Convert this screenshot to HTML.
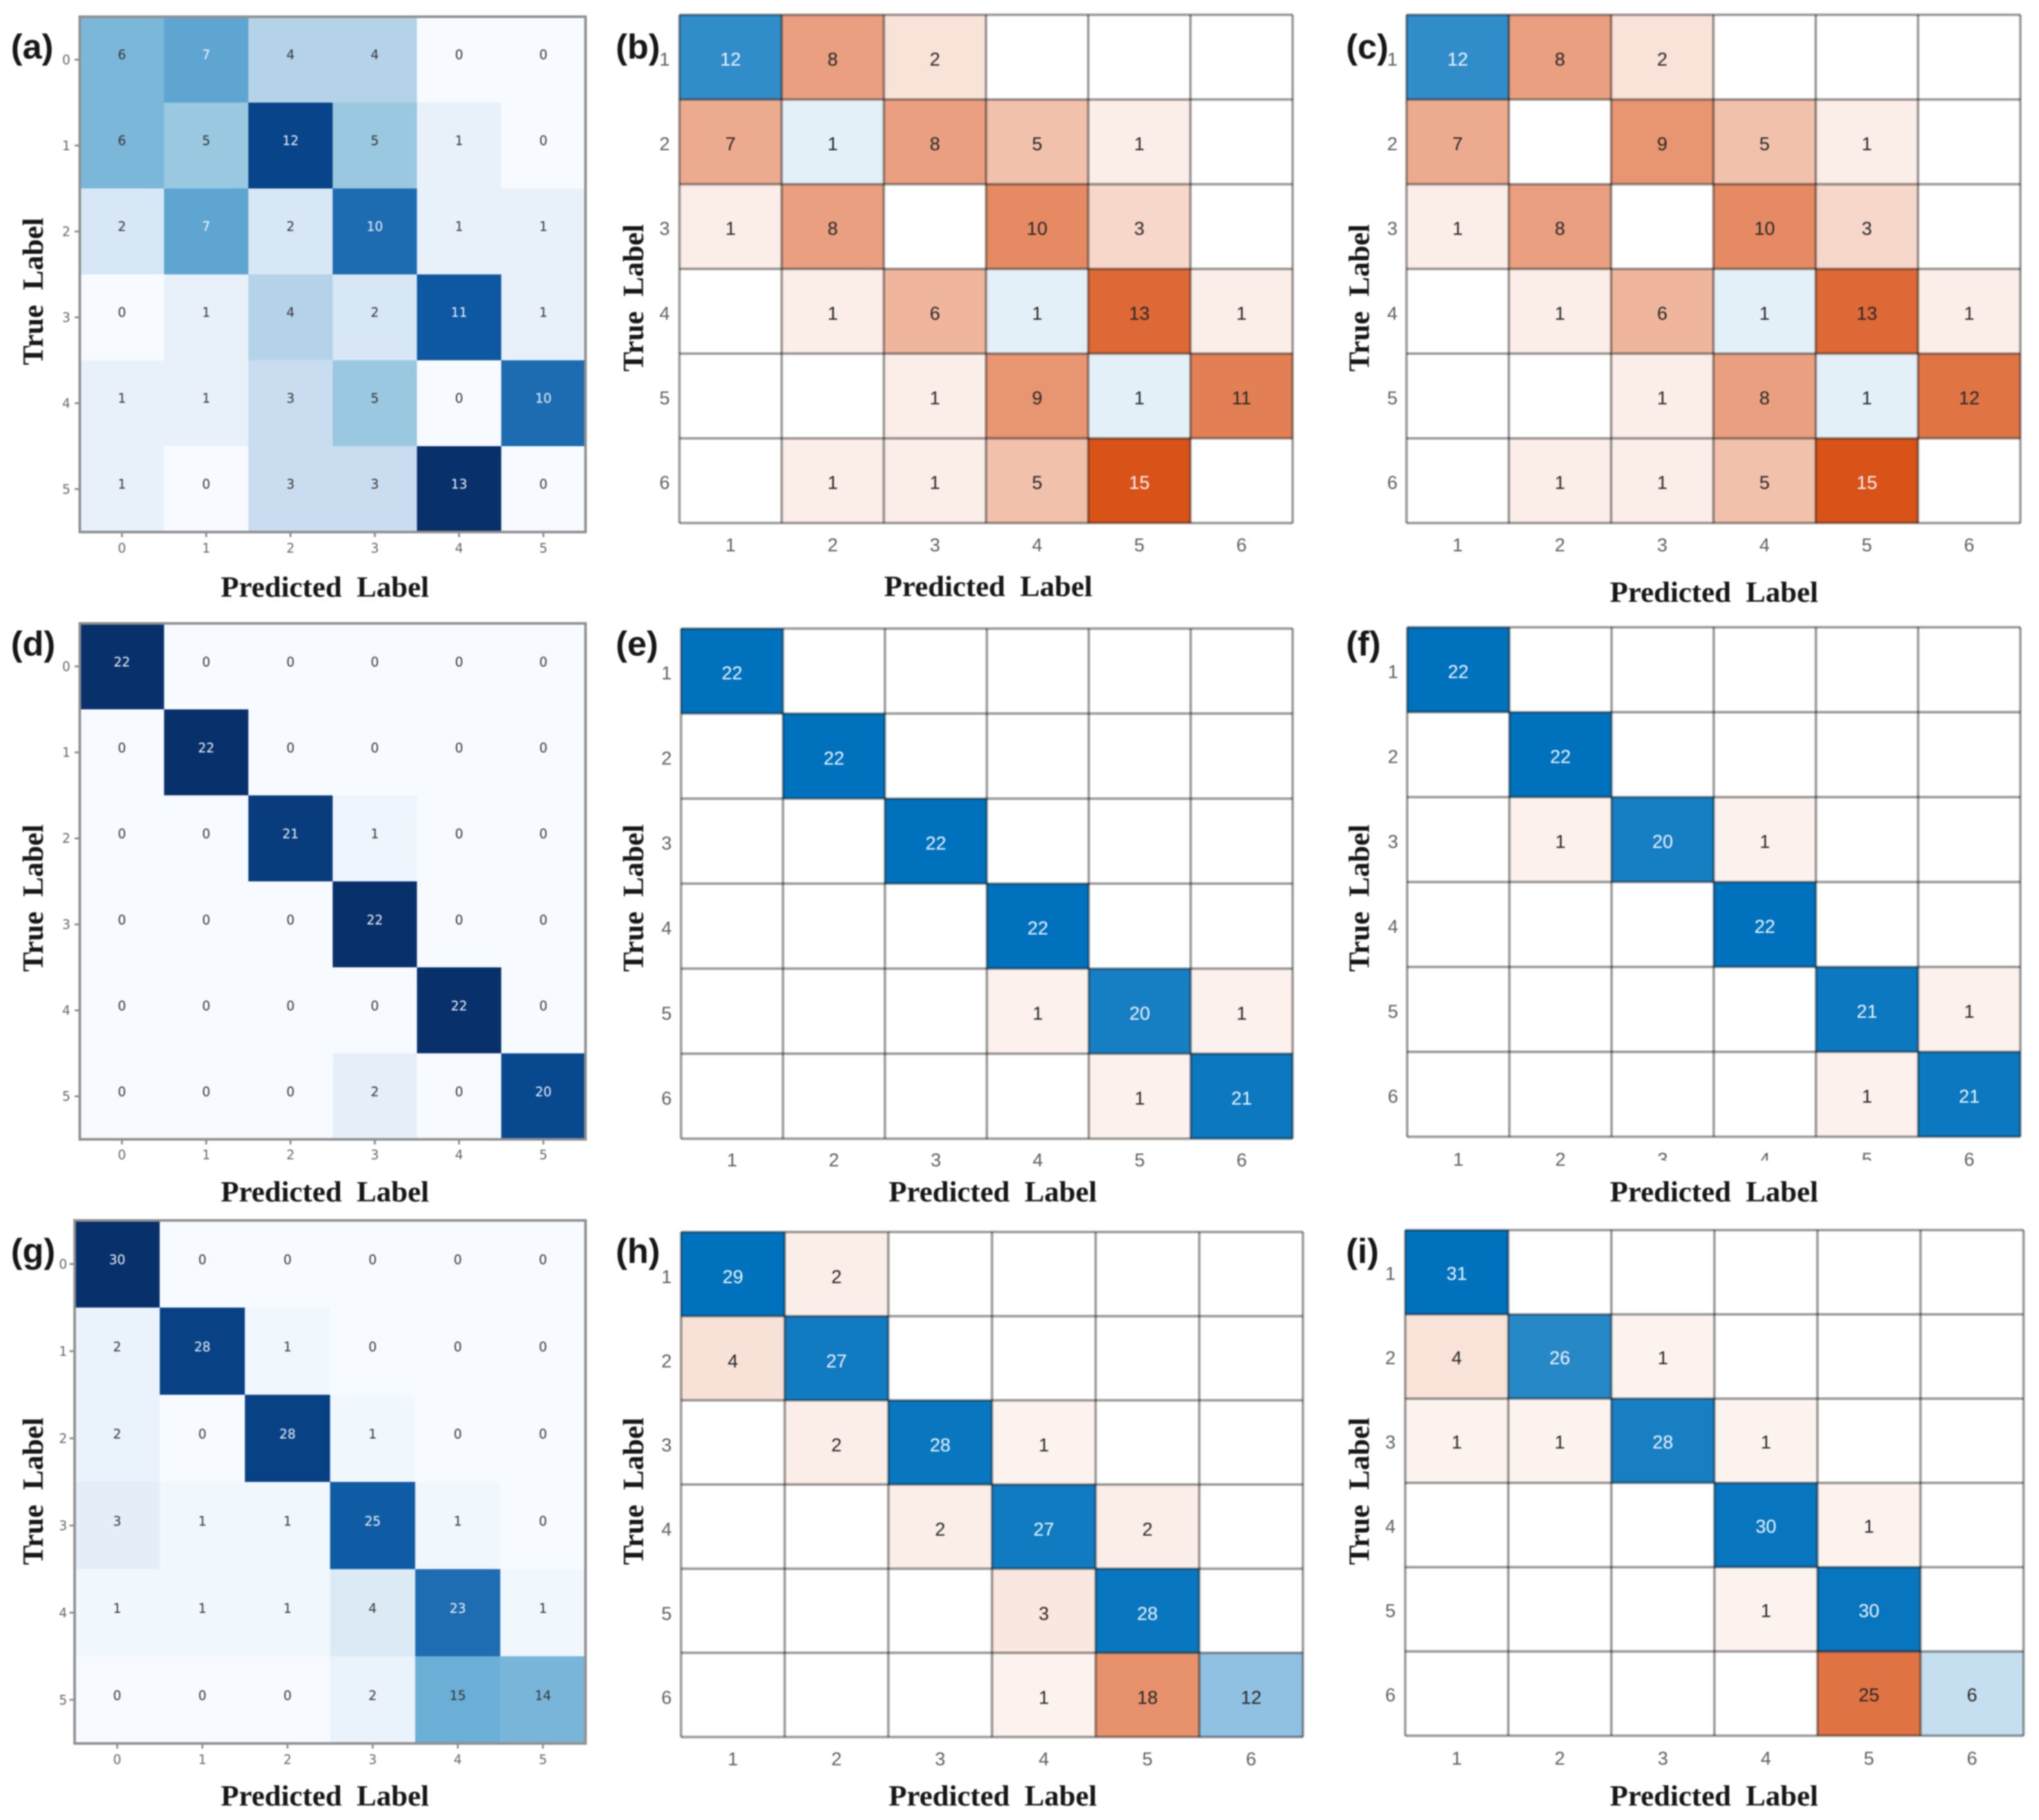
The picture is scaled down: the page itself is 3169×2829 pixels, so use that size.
<!DOCTYPE html>
<html>
<head>
<meta charset="utf-8">
<title>Confusion matrices</title>
<style>
html,body{margin:0;padding:0;background:#fff;width:3169px;height:2829px;overflow:hidden}
svg{display:block;filter:blur(1.1px)}
.title{font-family:"Liberation Serif",serif;font-weight:bold;font-size:46px;fill:#161616;white-space:pre;text-anchor:middle;dominant-baseline:central}
.tag{font-family:"Liberation Sans",sans-serif;font-weight:bold;font-size:54px;fill:#161616;dominant-baseline:central}
</style>
</head>
<body>
<svg id="figure" xmlns="http://www.w3.org/2000/svg" width="3169" height="2829" viewBox="0 0 3169 2829">
<rect x="0" y="0" width="3169" height="2829" fill="#fff"/>
<g id="charts"></g>
<rect x="2505" y="1804" width="440" height="30" fill="#fff"/>

<text class="title" x="505" y="912">Predicted  Label</text>
<text class="title" x="1536" y="911">Predicted  Label</text>
<text class="title" x="2664" y="920">Predicted  Label</text>
<text class="title" x="505" y="1852">Predicted  Label</text>
<text class="title" x="1543" y="1852">Predicted  Label</text>
<text class="title" x="2664" y="1852">Predicted  Label</text>
<text class="title" x="505" y="2791">Predicted  Label</text>
<text class="title" x="1543" y="2791">Predicted  Label</text>
<text class="title" x="2664" y="2791">Predicted  Label</text>

<text class="title" transform="translate(51 453) rotate(-90)">True  Label</text>
<text class="title" transform="translate(984 463) rotate(-90)">True  Label</text>
<text class="title" transform="translate(2112 463) rotate(-90)">True  Label</text>
<text class="title" transform="translate(51 1396) rotate(-90)">True  Label</text>
<text class="title" transform="translate(984 1396) rotate(-90)">True  Label</text>
<text class="title" transform="translate(2112 1396) rotate(-90)">True  Label</text>
<text class="title" transform="translate(51 2318) rotate(-90)">True  Label</text>
<text class="title" transform="translate(984 2318) rotate(-90)">True  Label</text>
<text class="title" transform="translate(2112 2318) rotate(-90)">True  Label</text>

<text class="tag" x="17" y="73">(a)</text>
<text class="tag" x="957" y="73">(b)</text>
<text class="tag" x="2092" y="73">(c)</text>
<text class="tag" x="17" y="1001">(d)</text>
<text class="tag" x="957" y="1001">(e)</text>
<text class="tag" x="2092" y="1001">(f)</text>
<text class="tag" x="17" y="1945">(g)</text>
<text class="tag" x="957" y="1945">(h)</text>
<text class="tag" x="2092" y="1945">(i)</text>
</svg>

<script>
// ---- data ----
const ticksFromZero = [0, 1, 2, 3, 4, 5];
const ticksFromOne = [1, 2, 3, 4, 5, 6];

const valuesA = [
  [6, 7, 4, 4, 0, 0],
  [6, 5, 12, 5, 1, 0],
  [2, 7, 2, 10, 1, 1],
  [0, 1, 4, 2, 11, 1],
  [1, 1, 3, 5, 0, 10],
  [1, 0, 3, 3, 13, 0]
];
const valuesB = [
  [12, 8, 2, 0, 0, 0],
  [7, 1, 8, 5, 1, 0],
  [1, 8, 0, 10, 3, 0],
  [0, 1, 6, 1, 13, 1],
  [0, 0, 1, 9, 1, 11],
  [0, 1, 1, 5, 15, 0]
];
const valuesC = [
  [12, 8, 2, 0, 0, 0],
  [7, 0, 9, 5, 1, 0],
  [1, 8, 0, 10, 3, 0],
  [0, 1, 6, 1, 13, 1],
  [0, 0, 1, 8, 1, 12],
  [0, 1, 1, 5, 15, 0]
];
const valuesD = [
  [22, 0, 0, 0, 0, 0],
  [0, 22, 0, 0, 0, 0],
  [0, 0, 21, 1, 0, 0],
  [0, 0, 0, 22, 0, 0],
  [0, 0, 0, 0, 22, 0],
  [0, 0, 0, 2, 0, 20]
];
const valuesE = [
  [22, 0, 0, 0, 0, 0],
  [0, 22, 0, 0, 0, 0],
  [0, 0, 22, 0, 0, 0],
  [0, 0, 0, 22, 0, 0],
  [0, 0, 0, 1, 20, 1],
  [0, 0, 0, 0, 1, 21]
];
const valuesF = [
  [22, 0, 0, 0, 0, 0],
  [0, 22, 0, 0, 0, 0],
  [0, 1, 20, 1, 0, 0],
  [0, 0, 0, 22, 0, 0],
  [0, 0, 0, 0, 21, 1],
  [0, 0, 0, 0, 1, 21]
];
const valuesG = [
  [30, 0, 0, 0, 0, 0],
  [2, 28, 1, 0, 0, 0],
  [2, 0, 28, 1, 0, 0],
  [3, 1, 1, 25, 1, 0],
  [1, 1, 1, 4, 23, 1],
  [0, 0, 0, 2, 15, 14]
];
const valuesH = [
  [29, 2, 0, 0, 0, 0],
  [4, 27, 0, 0, 0, 0],
  [0, 2, 28, 1, 0, 0],
  [0, 0, 2, 27, 2, 0],
  [0, 0, 0, 3, 28, 0],
  [0, 0, 0, 1, 18, 12]
];
const valuesI = [
  [31, 0, 0, 0, 0, 0],
  [4, 26, 1, 0, 0, 0],
  [1, 1, 28, 1, 0, 0],
  [0, 0, 0, 30, 1, 0],
  [0, 0, 0, 1, 30, 0],
  [0, 0, 0, 0, 25, 6]
];

// ---- layout of each panel (separate from the data) ----
const panels = [
  {id:'a', style:'heat',  values:valuesA, ticks:ticksFromZero, left:124,    right:910,  top:26,   bottom:827,  tickX:103,  tickY:852,  dy:-8},
  {id:'b', style:'chart', values:valuesB, ticks:ticksFromOne,  left:1056,   right:2009, top:23,   bottom:813,  tickX:1033, tickY:848,  dy:4},
  {id:'c', style:'chart', values:valuesC, ticks:ticksFromOne,  left:2186,   right:3140, top:23,   bottom:813,  tickX:2164, tickY:848,  dy:4},
  {id:'d', style:'heat',  values:valuesD, ticks:ticksFromZero, left:124,    right:910,  top:969,  bottom:1771, tickX:103,  tickY:1795, dy:-7},
  {id:'e', style:'chart', values:valuesE, ticks:ticksFromOne,  left:1058.5, right:2009, top:977,  bottom:1770, tickX:1036, tickY:1804, dy:4},
  {id:'f', style:'chart', values:valuesF, ticks:ticksFromOne,  left:2187,   right:3140, top:975,  bottom:1767, tickX:2165, tickY:1803, dy:4},
  {id:'g', style:'heat',  values:valuesG, ticks:ticksFromZero, left:116,    right:910,  top:1897, bottom:2710, tickX:98,   tickY:2735, dy:-7},
  {id:'h', style:'chart', values:valuesH, ticks:ticksFromOne,  left:1058.5, right:2025, top:1915, bottom:2700, tickX:1036, tickY:2735, dy:5},
  {id:'i', style:'chart', values:valuesI, ticks:ticksFromOne,  left:2184,   right:3145, top:1912, bottom:2698, tickX:2161, tickY:2734, dy:3}
];

const NS = 'http://www.w3.org/2000/svg';
const bluesRamp = [[247,251,255],[222,235,247],[198,219,239],[158,202,225],[107,174,214],[66,146,198],[33,113,181],[8,81,156],[8,48,107]];

function make(tag, parent, attrs) {
  const node = document.createElementNS(NS, tag);
  for (const k in attrs) node.setAttribute(k, attrs[k]);
  parent.appendChild(node);
  return node;
}
function rgb(c) { return 'rgb(' + c.map(Math.round).join(',') + ')'; }
function bluesColor(t) {
  const p = Math.max(0, Math.min(1, t)) * (bluesRamp.length - 1);
  const i = Math.min(Math.floor(p), bluesRamp.length - 2);
  const f = p - i;
  return bluesRamp[i].map((v, k) => v + (bluesRamp[i + 1][k] - v) * f);
}
function tintColor(base, t) {
  if (t <= 0) return [255, 255, 255];
  const a = 0.04 + 0.96 * t;
  return base.map(v => 255 + (v - 255) * a);
}
function luminance(c) { return 0.299 * c[0] + 0.587 * c[1] + 0.114 * c[2]; }

const root = document.getElementById('charts');

panels.forEach(function (p) {
  const n = p.values.length;
  const xScale = function (v) { return p.left + v * (p.right - p.left) / n; };
  const yScale = function (v) { return p.top + v * (p.bottom - p.top) / n; };
  const maxValue = Math.max.apply(null, p.values.map(r => Math.max.apply(null, r)));
  const heat = p.style === 'heat';

  const group = make('g', root, {});
  
  

  p.values.forEach(function (row, r) {
    row.forEach(function (value, c) {
      const color = heat ? bluesColor(value / maxValue)
                         : tintColor(r === c ? [0, 114, 189] : [217, 83, 25], value / maxValue);
      const cell = make('rect', group, {
        x: xScale(c), y: yScale(r),
        width: xScale(c + 1) - xScale(c), height: yScale(r + 1) - yScale(r),
        fill: rgb(color)
      });
      
      
    });
  });

  if (!heat) {
    for (let i = 0; i <= n; i++) {
      const v = make('line', group, {x1: xScale(i), x2: xScale(i), y1: yScale(0), y2: yScale(n), stroke: 'rgba(0,0,0,0.38)', 'stroke-width': 4});
      
      
      const h = make('line', group, {x1: xScale(0), x2: xScale(n), y1: yScale(i), y2: yScale(i), stroke: 'rgba(0,0,0,0.38)', 'stroke-width': 4});
      
      
    }
  } else {
    const frame = make('rect', group, {
      x: xScale(0), y: yScale(0), width: xScale(n) - xScale(0), height: yScale(n) - yScale(0),
      fill: 'none', stroke: '#8f8f8f', 'stroke-width': 4
    });
    
    
  }

  const annotationFont = heat ? '"DejaVu Sans",sans-serif' : '"Liberation Sans",sans-serif';
  const annotationSize = heat ? 20 : 29;

  p.values.forEach(function (row, r) {
    row.forEach(function (value, c) {
      if (!heat && value === 0) return;
      const bg = heat ? bluesColor(value / maxValue)
                      : tintColor(r === c ? [0, 114, 189] : [217, 83, 25], value / maxValue);
      const light = heat ? value > maxValue / 2 : luminance(bg) < 125;
      const label = make('text', group, {
        x: xScale(c + 0.5), y: yScale(r + 0.5) + p.dy,
        'text-anchor': 'middle', 'dominant-baseline': 'central',
        'font-family': annotationFont, 'font-size': annotationSize,
        fill: light ? '#f2f6fb' : (heat ? '#333' : '#262626')
      });
      label.textContent = value;
      
      
    });
  });

  p.ticks.forEach(function (tick, i) {
    const tx = make('text', group, {
      x: xScale(i + 0.5), y: p.tickY, 'text-anchor': 'middle', 'dominant-baseline': 'central',
      'font-family': annotationFont, 'font-size': heat ? 20 : 29, fill: heat ? '#666' : '#5e5e5e'
    });
    tx.textContent = tick;
    
    
    const ty = make('text', group, {
      x: p.tickX, y: yScale(i + 0.5) + (heat ? 0 : p.dy), 'text-anchor': 'middle', 'dominant-baseline': 'central',
      'font-family': annotationFont, 'font-size': heat ? 20 : 29, fill: heat ? '#666' : '#5e5e5e'
    });
    ty.textContent = tick;
    
    
    if (heat) {
      const mx = make('line', group, {x1: xScale(i + 0.5), x2: xScale(i + 0.5), y1: yScale(n), y2: yScale(n) + 8, stroke: '#8f8f8f', 'stroke-width': 3});
      
      
      const my = make('line', group, {x1: xScale(0) - 8, x2: xScale(0), y1: yScale(i + 0.5), y2: yScale(i + 0.5), stroke: '#8f8f8f', 'stroke-width': 3});
      
      
    }
  });
});
</script>
</body>
</html>
